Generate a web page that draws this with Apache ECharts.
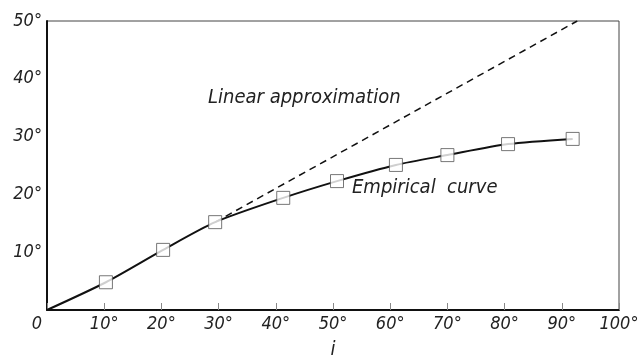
<!DOCTYPE html>
<html><head><meta charset="utf-8">
<script src="https://cdn.jsdelivr.net/npm/echarts@6/dist/echarts.min.js"></script>
<style>html,body{margin:0;padding:0;background:#fff}#c{width:641px;height:358px}</style>
</head><body><div id="c"></div>
<script>
const empiricalX = [0, 10.3, 20.3, 29.4, 41.3, 50.7, 61, 70, 80.6, 91.9];
const empiricalY = [0, 4.8, 10.4, 15.2, 19.4, 22.3, 25.1, 26.8, 28.7, 29.6];
const linearX = [29.4, 92.7];
const linearY = [15.2, 50];
const xTickLabels = ['0','10°','20°','30°','40°','50°','60°','70°','80°','90°','100°'];
const yTickLabels = ['', '10°','20°','30°','40°','50°'];
const labelLinear = 'Linear approximation';
const labelEmpirical = 'Empirical  curve';
const xAxisName = 'i';

const FONT = '"Liberation Sans Narrow", "DejaVu Sans Condensed", "Noto Sans", sans-serif';
const chart = echarts.init(document.getElementById('c'));
const markerPts = empiricalX.slice(1).map((x, i) => [x, empiricalY[i + 1]]);
chart.setOption({
  animation: false,
  backgroundColor: '#fff',
  grid: { left: 47, right: 22, top: 21, bottom: 48, show: true, borderColor: '#444', borderWidth: 1,
          containLabel: false, outerBoundsMode: 'none' },
  xAxis: {
    type: 'value', min: 0, max: 100, interval: 10,
    name: xAxisName, nameLocation: 'middle', nameGap: 30,
    nameTextStyle: { fontFamily: FONT, fontStyle: 'italic', fontSize: 20, color: '#222' },
    axisLine: { lineStyle: { color: '#111', width: 2 } },
    axisTick: { show: true, inside: true, length: 7, lineStyle: { color: '#888', width: 1 } },
    splitLine: { show: false },
    axisLabel: {
      fontFamily: FONT, fontStyle: 'italic', fontSize: 18, color: '#222', margin: 5,
      formatter: v => { const i = Math.round(v / 10); return i === 0 ? '{z|0}' : xTickLabels[i]; },
      rich: { z: { fontFamily: FONT, fontStyle: 'italic', fontSize: 18, color: '#222', padding: [0, 20, 0, 0] } }
    }
  },
  yAxis: {
    type: 'value', min: 0, max: 50, interval: 10,
    axisLine: { show: true, lineStyle: { color: '#111', width: 2 } },
    axisTick: { show: false },
    splitLine: { show: false },
    axisLabel: {
      fontFamily: FONT, fontStyle: 'italic', fontSize: 18, color: '#222', margin: 5,
      formatter: v => yTickLabels[Math.round(v / 10)]
    }
  },
  graphic: [
    { type: 'text', left: 208, top: 88, style: { text: labelLinear, font: 'italic 20px ' + FONT, fill: '#222' } },
    { type: 'text', left: 352, top: 178, style: { text: labelEmpirical, font: 'italic 20px ' + FONT, fill: '#222' } }
  ],
  series: [
    {
      type: 'line', data: linearX.map((x, i) => [x, linearY[i]]),
      symbol: 'none', lineStyle: { color: '#111', width: 1.5, type: [7, 5] }, z: 2
    },
    {
      type: 'line', data: empiricalX.map((x, i) => [x, empiricalY[i]]),
      symbol: 'none', smooth: 0.25, lineStyle: { color: '#111', width: 2 }, z: 3
    },
    {
      type: 'scatter', data: markerPts, symbol: 'rect', symbolSize: 13,
      itemStyle: { color: '#fff', borderColor: '#555', borderWidth: 1 }, z: 4
    }
  ]
});
</script></body></html>
